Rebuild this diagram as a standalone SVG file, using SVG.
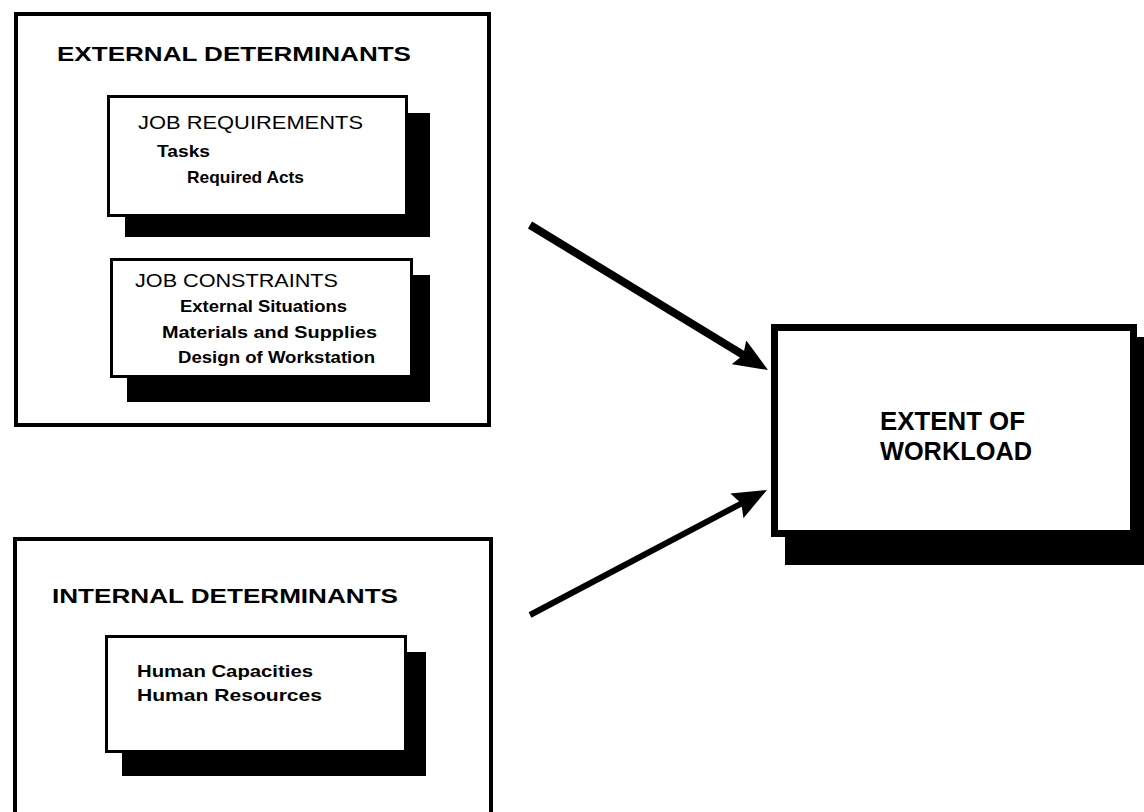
<svg xmlns="http://www.w3.org/2000/svg" width="1144" height="812" viewBox="0 0 1144 812">
<style>
.outer{fill:none;stroke:#000;stroke-width:4}
.box{fill:#fff;stroke:#000;stroke-width:3}
.bigbox{fill:#fff;stroke:#000;stroke-width:7}
.shadow{fill:#000}
text{font-family:"Liberation Sans",Arial,sans-serif;fill:#000}
.h{font-size:20px;font-weight:bold}
.sub{font-size:18px}
.item{font-size:17px;font-weight:bold}
.big{font-size:25px;font-weight:bold}
.conn{stroke:#000;fill:none}
</style>
<defs>
<marker id="ah" viewBox="0 0 34 28" refX="14" refY="14" markerWidth="34" markerHeight="28" markerUnits="userSpaceOnUse" orient="auto">
<path d="M0,0 L34,14 L0,28 L5,14 z" fill="#000"/>
</marker>
</defs>
<rect x="0" y="0" width="1144" height="812" fill="#fff"/>

<g id="external">
<rect class="outer" x="16" y="14" width="473" height="411"/>
<text class="h" x="57" y="61" textLength="354" lengthAdjust="spacingAndGlyphs">EXTERNAL DETERMINANTS</text>
</g>

<g id="job-requirements">
<rect class="shadow" x="125" y="113" width="305" height="124"/>
<rect class="box" x="108.5" y="96.5" width="298" height="119"/>
<text class="sub" x="138" y="129" textLength="225" lengthAdjust="spacingAndGlyphs">JOB REQUIREMENTS</text>
<text class="item" x="157" y="157" textLength="53" lengthAdjust="spacingAndGlyphs">Tasks</text>
<text class="item" x="187" y="183" textLength="117" lengthAdjust="spacingAndGlyphs">Required Acts</text>
</g>

<g id="job-constraints">
<rect class="shadow" x="127" y="275" width="303" height="127"/>
<rect class="box" x="111.5" y="259.5" width="300" height="117"/>
<text class="sub" x="135" y="287" textLength="203" lengthAdjust="spacingAndGlyphs">JOB CONSTRAINTS</text>
<text class="item" x="180" y="312" textLength="167" lengthAdjust="spacingAndGlyphs">External Situations</text>
<text class="item" x="162" y="338" textLength="215" lengthAdjust="spacingAndGlyphs">Materials and Supplies</text>
<text class="item" x="178" y="363" textLength="197" lengthAdjust="spacingAndGlyphs">Design of Workstation</text>
</g>

<g id="internal">
<rect class="outer" x="15" y="539" width="476" height="300"/>
<text class="h" x="52" y="603" textLength="346" lengthAdjust="spacingAndGlyphs">INTERNAL DETERMINANTS</text>
</g>

<g id="human">
<rect class="shadow" x="122" y="652" width="304" height="124"/>
<rect class="box" x="106.5" y="636.5" width="299" height="115"/>
<text class="item" x="137" y="677" textLength="176" lengthAdjust="spacingAndGlyphs">Human Capacities</text>
<text class="item" x="137" y="701" textLength="185" lengthAdjust="spacingAndGlyphs">Human Resources</text>
</g>

<g id="extent">
<rect class="shadow" x="785" y="337" width="359" height="228"/>
<rect class="bigbox" x="774.5" y="327.5" width="359" height="206"/>
<text class="big" x="880" y="430" textLength="145" lengthAdjust="spacingAndGlyphs">EXTENT OF</text>
<text class="big" x="880" y="460" textLength="152" lengthAdjust="spacingAndGlyphs">WORKLOAD</text>
</g>

<g id="connectors">
<line class="conn" x1="530" y1="225" x2="750.9" y2="359.6" stroke-width="8" marker-end="url(#ah)"/>
<line class="conn" x1="530" y1="615" x2="749.3" y2="499.3" stroke-width="6" marker-end="url(#ah)"/>
</g>
</svg>
